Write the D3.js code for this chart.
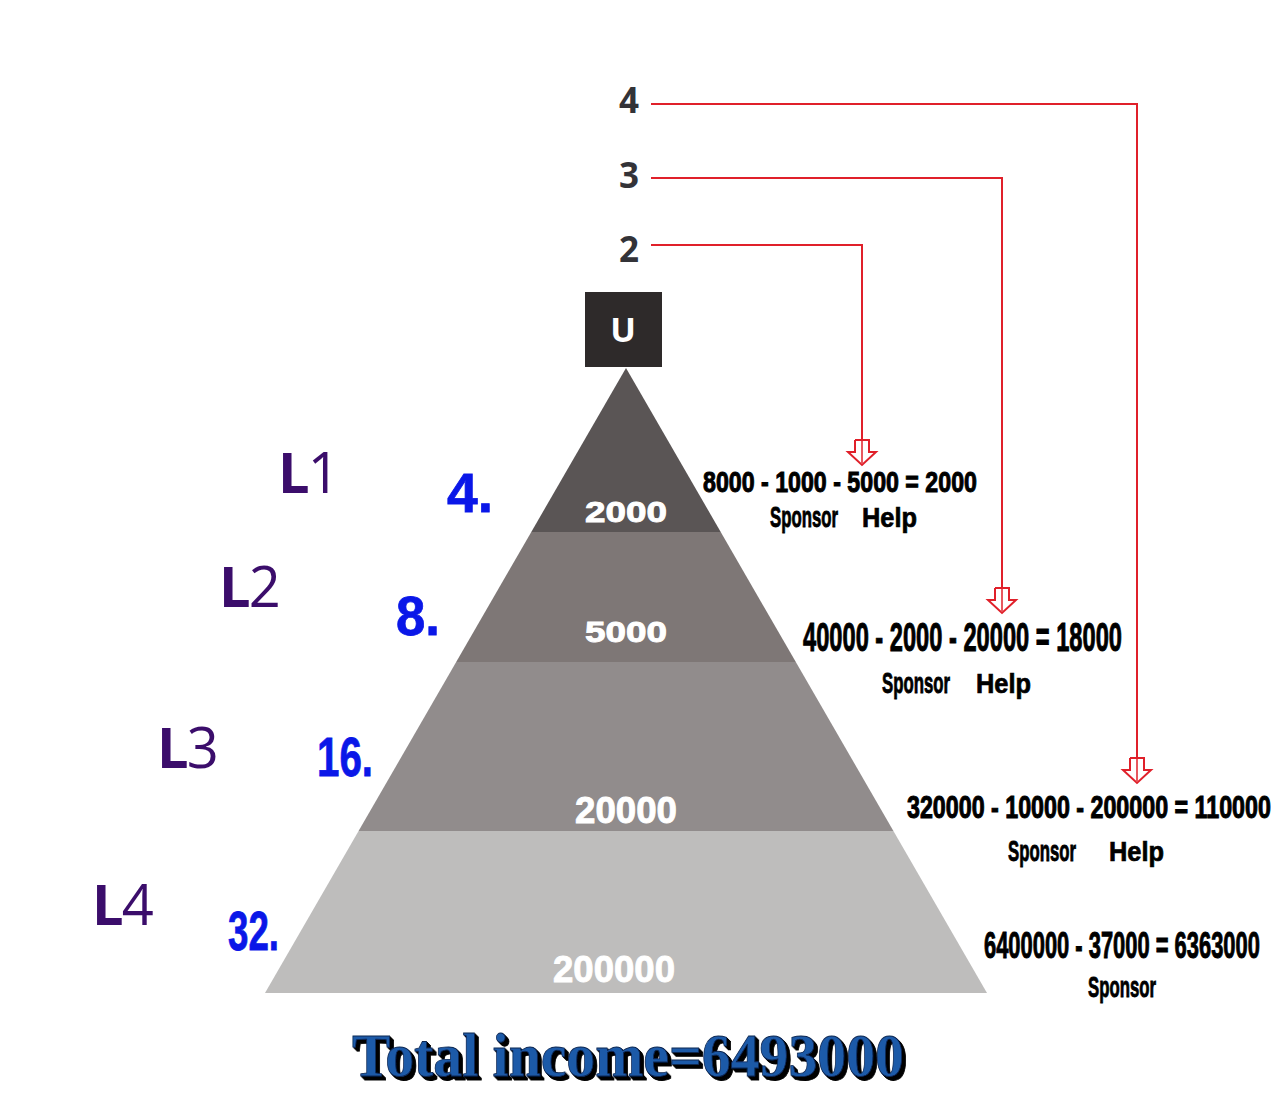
<!DOCTYPE html>
<html>
  <head>
    <meta charset="utf-8" />
    <title>Income pyramid</title>
    <style>
      body { margin: 0; background: #fff; }
      svg { display: block; }
    </style>
  </head>
  <body>
    <svg id="chart" width="1280" height="1120"></svg>
    <script src="https://cdn.jsdelivr.net/npm/d3@7/dist/d3.min.js"></script>
    <script>
      // data
      const levels = ["L1", "L2", "L3", "L4"];
      const members = [4, 8, 16, 32];
      const bandIncome = [2000, 5000, 20000, 200000];
      const grossIncome = [8000, 40000, 320000, 6400000];
      const sponsorCut = [1000, 2000, 10000, 37000];
      const helpGiven = [5000, 20000, 200000, null];
      const netIncome = [2000, 18000, 110000, 6363000];
      const uplines = [4, 3, 2];

      const bandColors = ["#5a5555", "#7e7776", "#918c8c", "#bebdbc"];
      const narrow = "'Liberation Sans Narrow', 'Liberation Sans', Arial, sans-serif";
      const wide = "'Liberation Sans', Arial, sans-serif";

      const svg = d3.select("#chart");

      // squeeze/stretch a text horizontally to a given width
      function fit(sel, widths) {
        sel.each(function (d, i) {
          const w = this.getComputedTextLength();
          const x = +this.getAttribute("x"), y = +this.getAttribute("y");
          const target = typeof widths === "number" ? widths : widths[i];
          d3.select(this)
            .attr("x", 0).attr("y", 0)
            .attr("transform", "translate(" + x + "," + y + ") scale(" + target / w + ",1)");
        });
      }

      // pyramid geometry: level index -> y, depth -> half width
      const cx = 626;
      const yScale = d3.scaleLinear().domain([0, 1, 2, 3, 4]).range([368, 532, 662, 831, 993]);
      const halfW = d3.scaleLinear().domain([368, 993]).range([0, 361]);

      // annotation layout
      const lvlX = [281, 222, 160, 95], lvlY = [493, 607, 768, 925];
      const memX = [447, 396, 317, 228], memY = [512, 635, 776, 950], memW = [46, 44, 56, 51];
      const bandLabY = [522, 642, 823, 982], bandLabX = [626, 626, 626, 614];
      const bandLabW = [82, 82, 102, 122], bandLabSize = [30, 29, 37, 37];
      const fX = [703, 803, 907, 984], fW = [274, 319, 364, 276];
      const fY = [492, 651, 818, 958], fSize = [29, 40, 31, 37];
      const spX = [770, 882, 1008, 1088], spY = [527, 693, 861, 997];
      const helpX = [862, 976, 1109];
      const upY = [104, 178, 245], upNumY = [113, 188, 262];
      const upEndX = [1137, 1002, 862], upEndY = [783, 613, 465];

      // bands
      svg.append("g")
        .selectAll("polygon")
        .data(levels)
        .join("polygon")
        .attr("fill", (d, i) => bandColors[i])
        .attr("points", (d, i) => {
          const y0 = yScale(i), y1 = yScale(i + 1);
          return [
            [cx - halfW(y0), y0], [cx + halfW(y0), y0],
            [cx + halfW(y1), y1], [cx - halfW(y1), y1]
          ].join(" ");
        });

      // band values
      svg.append("g")
        .selectAll("text")
        .data(bandIncome)
        .join("text")
        .attr("x", (d, i) => bandLabX[i])
        .attr("y", (d, i) => bandLabY[i])
        .attr("text-anchor", "middle")
        .attr("fill", "#fff")
        .attr("stroke", "#fff")
        .attr("stroke-width", 0.9)
        .style("font-family", wide)
        .style("font-weight", "bold")
        .style("font-size", (d, i) => bandLabSize[i] + "px")
        .text(d => d)
        .call(fit, bandLabW);

      // U box
      svg.append("rect")
        .attr("x", 585).attr("y", 292).attr("width", 77).attr("height", 75)
        .attr("fill", "#2e2a2a");
      svg.append("text")
        .attr("x", 623).attr("y", 342)
        .attr("text-anchor", "middle")
        .attr("fill", "#fff")
        .style("font-family", "'Open Sans', sans-serif")
        .style("font-weight", 700)
        .style("font-size", "34px")
        .text("U");

      // upline numbers
      svg.append("g")
        .selectAll("text")
        .data(uplines)
        .join("text")
        .attr("x", 629)
        .attr("y", (d, i) => upNumY[i])
        .attr("text-anchor", "middle")
        .attr("fill", "#333338")
        .style("font-family", "'Open Sans', sans-serif")
        .style("font-weight", 700)
        .style("font-size", "35px")
        .text(d => d);

      // red connector lines with hollow arrows
      const red = "#e0202a";
      const links = svg.append("g").attr("fill", "none").attr("stroke", red).attr("stroke-width", 2);
      uplines.forEach((d, i) => {
        const x = upEndX[i], tip = upEndY[i];
        links.append("polyline")
          .attr("points", [[651, upY[i]], [x, upY[i]], [x, tip - 4]].join(" "));
        const headTop = tip - 13, shaftTop = headTop - 12;
        links.append("path")
          .attr("fill", "#fff")
          .attr("d", d3.line()([
            [x - 7, shaftTop], [x + 7, shaftTop], [x + 7, headTop], [x + 14, headTop],
            [x, tip], [x - 14, headTop], [x - 7, headTop], [x - 7, shaftTop]
          ]));
        links.append("line")
          .attr("x1", x).attr("x2", x)
          .attr("y1", shaftTop).attr("y2", tip - 2)
          .attr("stroke-width", 1.5);
      });

      // level labels L1..L4
      const lvl = svg.append("g")
        .selectAll("text")
        .data(levels)
        .join("text")
        .attr("x", (d, i) => lvlX[i] - 3)
        .attr("y", (d, i) => lvlY[i])
        .attr("fill", "#3b0d6b")
        .style("font-family", "'Open Sans', sans-serif")
        .style("font-size", "56px");
      lvl.append("tspan").style("font-weight", 700).text(d => d[0]);
      lvl.append("tspan").style("font-weight", 400).attr("dx", -2).text(d => d.slice(1));

      // member counts
      svg.append("g")
        .selectAll("text")
        .data(members)
        .join("text")
        .attr("x", (d, i) => memX[i])
        .attr("y", (d, i) => memY[i])
        .attr("fill", "#0a17e8")
        .attr("stroke", "#0a17e8")
        .attr("stroke-width", 0.8)
        .style("font-family", narrow)
        .style("font-weight", "bold")
        .style("font-size", "56px")
        .text(d => d + ".")
        .call(fit, memW);

      // income formulas
      svg.append("g")
        .selectAll("text")
        .data(grossIncome)
        .join("text")
        .attr("x", (d, i) => fX[i])
        .attr("y", (d, i) => fY[i])
        .attr("fill", "#000")
        .attr("stroke", "#000")
        .attr("stroke-width", 1)
        .style("font-family", narrow)
        .style("font-weight", "bold")
        .style("font-size", (d, i) => fSize[i] + "px")
        .text((d, i) => {
          const parts = [d, sponsorCut[i]];
          if (helpGiven[i] != null) parts.push(helpGiven[i]);
          return parts.join(" - ") + " = " + netIncome[i];
        })
        .call(fit, fW);

      svg.append("g")
        .selectAll("text")
        .data(levels)
        .join("text")
        .attr("x", (d, i) => spX[i])
        .attr("y", (d, i) => spY[i])
        .attr("stroke", "#000")
        .attr("stroke-width", 0.9)
        .style("font-family", narrow)
        .style("font-weight", "bold")
        .style("font-size", "30px")
        .text("Sponsor")
        .call(fit, 68);

      svg.append("g")
        .selectAll("text")
        .data(helpGiven.filter(d => d != null))
        .join("text")
        .attr("x", (d, i) => helpX[i])
        .attr("y", (d, i) => spY[i])
        .attr("stroke", "#000")
        .attr("stroke-width", 0.7)
        .style("font-family", wide)
        .style("font-weight", "bold")
        .style("font-size", "27px")
        .text("Help")
        .call(fit, 55);

      // 3D title: black extrusion to the lower right, blue face on top
      const defs = svg.append("defs");
      const f = defs.append("filter").attr("id", "extrude")
        .attr("x", "-5%").attr("y", "-20%").attr("width", "115%").attr("height", "150%");
      [1, 2, 3, 4].forEach(k => {
        f.append("feOffset").attr("in", "SourceAlpha")
          .attr("dx", k).attr("dy", k).attr("result", "o" + k);
      });
      const merge = f.append("feMerge");
      [4, 3, 2, 1].forEach(k => merge.append("feMergeNode").attr("in", "o" + k));
      merge.append("feMergeNode").attr("in", "SourceGraphic");

      svg.append("text")
        .attr("x", 352).attr("y", 1076)
        .attr("fill", "#1f5aa8")
        .attr("stroke", "#0b2550")
        .attr("stroke-width", 0.8)
        .attr("filter", "url(#extrude)")
        .style("font-family", "'Liberation Serif', 'Times New Roman', serif")
        .style("font-weight", "bold")
        .style("font-size", "62px")
        .text("Total income=" + d3.sum(netIncome))
        .call(fit, 552);
    </script>
  </body>
</html>
